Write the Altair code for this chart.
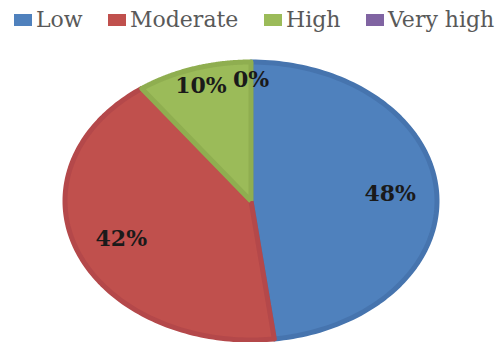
import altair as alt
import pandas as pd

# Risk level shares (percent)
categories = ["Low", "Moderate", "High", "Very high"]
shares = [48, 42, 10, 0]
fill_colors = ["#4F81BD", "#C0504D", "#9BBB59", "#8064A2"]
edge_colors = ["#4674AE", "#B4484A", "#8FAE50", "#735A93"]

source = pd.DataFrame({"category": categories, "share": shares, "rank": list(range(len(categories)))})

RIM_STEPS = 120

# pixel extents of the (elliptical) pie
x_scale = alt.Scale(domain=[-1, 1], range=[65, 437], zero=False, nice=False)
y_scale = alt.Scale(domain=[-1, 1], range=[340, 62], zero=False, nice=False)

base = alt.Chart(source).transform_window(
    cum="sum(share)", sort=[alt.SortField("rank")], frame=[None, 0]
).transform_calculate(
    start="datum.cum - datum.share"
)

# each slice is a closed polygon: centre -> rim points -> centre
slices = base.transform_filter(
    "datum.share > 0"
).transform_calculate(
    step=f"sequence(0, {RIM_STEPS + 3})"
).transform_flatten(
    ["step"]
).transform_calculate(
    t=f"min(max((datum.step - 1) / {RIM_STEPS}, 0), 1)"
).transform_calculate(
    ang="2 * PI * (datum.start + datum.share * datum.t) / 100"
).transform_calculate(
    rim=f"datum.step >= 1 && datum.step <= {RIM_STEPS + 1} ? 1 : 0"
).transform_calculate(
    px="datum.rim * sin(datum.ang)",
    py="datum.rim * cos(datum.ang)",
).mark_line(strokeWidth=5, strokeJoin="round", interpolate="linear").encode(
    x=alt.X("px:Q", scale=x_scale, axis=None),
    y=alt.Y("py:Q", scale=y_scale, axis=None),
    order=alt.Order("step:Q"),
    detail="category:N",
    fill=alt.Fill(
        "category:N",
        scale=alt.Scale(domain=categories, range=fill_colors),
        legend=alt.Legend(
            title=None,
            orient="none",
            direction="horizontal",
            legendX=12,
            legendY=9,
            padding=0,
            symbolType="M-1,-0.67H1V0.67H-1Z",
            symbolSize=324,
            symbolStrokeWidth=0,
            symbolOpacity=1,
            labelFont="DejaVu Serif",
            labelFontSize=22,
            labelColor="#595959",
            labelOffset=2,
            columnPadding=23,
        ),
    ),
    stroke=alt.Stroke(
        "category:N",
        scale=alt.Scale(domain=categories, range=edge_colors),
        legend=None,
    ),
)

labels = base.transform_calculate(
    mid="datum.start + datum.share / 2",
    lr="datum.share < 15 ? 0.87 : 0.75",
).transform_calculate(
    lx="datum.lr * sin(2 * PI * datum.mid / 100)",
    ly="datum.lr * cos(2 * PI * datum.mid / 100)",
    txt="datum.share + '%'",
).mark_text(
    font="DejaVu Serif", fontWeight="bold", fontSize=22, color="#1a1a1a"
).encode(
    x=alt.X("lx:Q", scale=x_scale, axis=None),
    y=alt.Y("ly:Q", scale=y_scale, axis=None),
    text="txt:N",
)

chart = alt.layer(slices, labels, padding=0).properties(
    width=504, height=342, autosize="none", background="white"
).configure_view(stroke=None)

chart.save("out.html", embed_options={"renderer": "svg", "actions": False})
